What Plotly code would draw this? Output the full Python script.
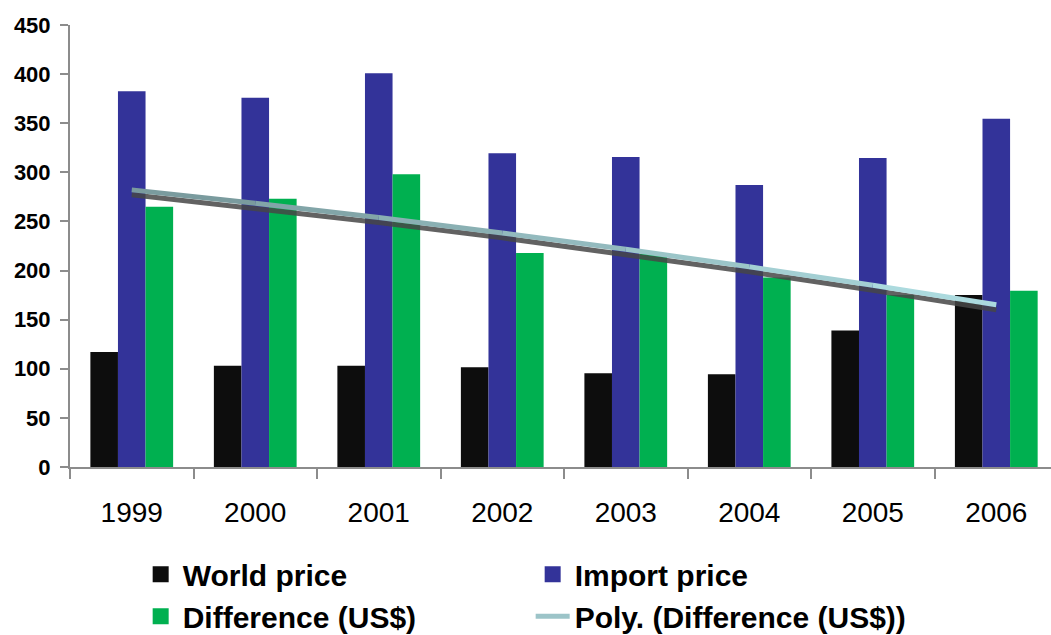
import numpy as np
import plotly.graph_objects as go

years = ["1999", "2000", "2001", "2002", "2003", "2004", "2005", "2006"]
world_price = [117, 103, 103, 101.5, 95.5, 94.5, 139, 175]
import_price = [382.5, 376, 401, 319.5, 315.5, 287, 314.5, 354.5]
difference = [265, 273, 298, 218, 217, 193, 175, 179.5]
y_ticks = [0, 50, 100, 150, 200, 250, 300, 350, 400, 450]

# Excel-style polynomial (order 2) trendline of the difference series
xi = np.arange(len(years))
coef = np.polyfit(xi, difference, 2)
trend = np.polyval(coef, xi)

FONT = "Liberation Sans, Arial, sans-serif"
C_WORLD, C_IMPORT, C_DIFF = "#0d0d0d", "#333399", "#00b050"

fig = go.Figure()
for name, vals, col in [("World price", world_price, C_WORLD),
                        ("Import price", import_price, C_IMPORT),
                        ("Difference (US$)", difference, C_DIFF)]:
    fig.add_trace(go.Bar(x=years, y=vals, name=name, legendgroup=name,
                         showlegend=False,
                         marker=dict(color=col, line=dict(width=0))))

# shadow of trendline
fig.add_trace(go.Scatter(x=years, y=trend - 5, mode="lines", showlegend=False,
                         legendgroup="poly",
                         line=dict(color="rgba(70,70,70,0.85)", width=5),
                         hoverinfo="skip"))

# trendline drawn in segments for a soft gradient
c0 = np.array([122, 155, 158])
c1 = np.array([172, 218, 222])
n = len(years)
for i in range(n - 1):
    t = i / (n - 2)
    c = (c0 * (1 - t) + c1 * t).astype(int)
    fig.add_trace(go.Scatter(x=years[i:i + 2], y=trend[i:i + 2], mode="lines",
                             showlegend=False, legendgroup="poly",
                             line=dict(color=f"rgb({c[0]},{c[1]},{c[2]})", width=5),
                             hoverinfo="skip"))

# legend entries (larger swatches, linked to the bars by legendgroup)
for name, col in [("World price", C_WORLD), ("Import price", C_IMPORT),
                  ("Difference (US$)", C_DIFF)]:
    fig.add_trace(go.Scatter(x=[None], y=[None], mode="markers", name=name,
                             legendgroup=name,
                             marker=dict(symbol="square", size=22, color=col)))
fig.add_trace(go.Scatter(x=[None], y=[None], mode="lines",
                         name="Poly. (Difference (US$))", legendgroup="poly",
                         line=dict(color="#9cc4c8", width=5)))

fig.update_layout(
    width=1051, height=635,
    margin=dict(l=70, r=0, t=25, b=168, autoexpand=False),
    paper_bgcolor="white", plot_bgcolor="white",
    barmode="group", bargap=0.33, bargroupgap=0,
    font=dict(family=FONT, color="black"),
    showlegend=True,
    legend=dict(orientation="h", x=0.07, xanchor="left", y=-0.184, yanchor="top",
                entrywidth=343, entrywidthmode="pixels",
                font=dict(size=30, family=FONT, weight="bold"), itemwidth=34,
                traceorder="normal"),
)
fig.update_xaxes(
    type="category", range=[-0.5, 7.443], automargin=False,
    showline=True, linecolor="#8c8c8c", linewidth=2,
    ticks="outside", tickson="boundaries", ticklen=10, tickcolor="#8c8c8c", tickwidth=2,
    tickfont=dict(size=28, family=FONT), ticklabelstandoff=19,
    showgrid=False, zeroline=False,
)
fig.update_yaxes(
    range=[0, 450], tickvals=y_ticks, automargin=False,
    showline=True, linecolor="#8c8c8c", linewidth=2,
    ticks="outside", ticklen=8, tickcolor="#8c8c8c", tickwidth=2,
    tickfont=dict(size=22, family=FONT, weight="bold"), ticklabelstandoff=5,
    showgrid=False, zeroline=False,
)

fig.write_html("out.html", config={"displayModeBar": False},
               post_script="document.body.style.margin='0';document.body.style.overflow='hidden';")
